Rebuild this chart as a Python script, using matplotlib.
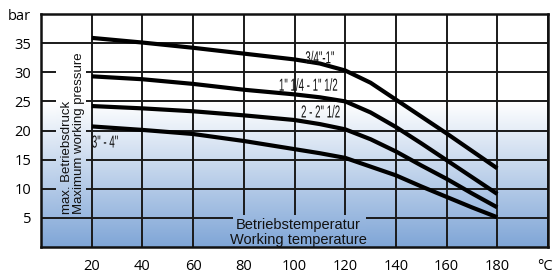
import numpy as np
import matplotlib
matplotlib.use("Agg")
import matplotlib.pyplot as plt
import matplotlib.transforms as mtransforms
from matplotlib.textpath import TextPath
from matplotlib.patches import PathPatch
from matplotlib.font_manager import FontProperties

# ---- data ----
temps = [20, 40, 60, 80, 100, 110, 120, 130, 140, 150, 160, 170, 180]
p_34_1 = [35.9, 35.1, 34.2, 33.2, 32.2, 31.5, 30.3, 28.2, 25.3, 22.4, 19.5, 16.5, 13.5]
p_114_112 = [29.3, 28.8, 28.0, 27.0, 26.2, 25.7, 25.0, 23.1, 20.6, 17.8, 14.9, 12.0, 9.1]
p_2_212 = [24.2, 23.8, 23.3, 22.6, 21.8, 21.1, 20.2, 18.5, 16.4, 14.0, 11.7, 9.2, 6.8]
p_3_4 = [20.7, 20.1, 19.4, 18.2, 16.8, 16.1, 15.3, 13.8, 12.3, 10.4, 8.6, 6.8, 5.1]
series = [p_34_1, p_114_112, p_2_212, p_3_4]
series_labels = ['3/4"-1"', '1" 1/4 - 1" 1/2', '2 - 2" 1/2', '3" - 4"']
label_pos = [(110, 32.6), (105.5, 27.9), (110.3, 23.3), (20.2, 18.1)]
label_ha = ['center', 'center', 'center', 'left']

x_ticks = [20, 40, 60, 80, 100, 120, 140, 160, 180, 200]
x_ticklabels = ['20', '40', '60', '80', '100', '120', '140', '160', '180', '°C']
y_ticks = [5, 10, 15, 20, 25, 30, 35, 40]
y_ticklabels = ['5', '10', '15', '20', '25', '30', '35', 'bar']
xlim = (0, 200)
ylim = (0, 40)

ylabel_lines = ['max. Betriebsdruck', 'Maximum working pressure']
xlabel_lines = ['Betriebstemperatur', 'Working temperature']

# ---- style ----
sans = ['Liberation Sans', 'DejaVu Sans']
tickfont = ['Open Sans', 'DejaVu Sans']

fig = plt.figure(figsize=(5.55, 2.76), dpi=100)
ax = fig.add_axes([41 / 555, 1 - 247 / 276, (548 - 41) / 555, (247 - 14) / 276])
ax.set_xlim(*xlim)
ax.set_ylim(*ylim)

blue = np.array([128, 166, 215]) / 255.0
white = np.array([1.0, 1.0, 1.0])


def grad_img(y0, y1, n=200):
    ys = np.linspace(y1, y0, n)
    t = np.clip((25.0 - ys) / 25.0, 0, 1)[:, None]
    col = white * (1 - t) + blue * t
    return np.repeat(col[:, None, :], 2, axis=1)


def condensed_text(x, y, s, size, sx=0.7, ha='center', family=sans, z=4):
    prop = FontProperties(family=family)
    tp = TextPath((0, 0), s, size=size, prop=prop)
    bb = tp.get_extents()
    if ha == 'center':
        dx = -(bb.x0 + bb.x1) / 2
    elif ha == 'left':
        dx = -bb.x0
    else:
        dx = -bb.x1
    dy = -(bb.y0 + bb.y1) / 2
    k = fig.dpi / 72.0
    tr = (mtransforms.Affine2D().translate(dx, dy).scale(k * sx, k)
          + mtransforms.ScaledTranslation(x, y, ax.transData))
    patch = PathPatch(tp, transform=tr, facecolor='#111111', edgecolor='none',
                      lw=0, zorder=z)
    ax.add_artist(patch)


# background gradient
ax.imshow(grad_img(ylim[0], ylim[1]), extent=[xlim[0], xlim[1], ylim[0], ylim[1]],
          aspect='auto', zorder=0, interpolation='bilinear')

# grid
ax.set_xticks(x_ticks)
ax.set_yticks(y_ticks)
ax.grid(True, color='#1a1a1a', linewidth=1.4)
ax.set_axisbelow(True)
for gl in ax.get_xgridlines() + ax.get_ygridlines():
    gl.set_zorder(0.5)

# gradient patches behind axis-title texts (hide grid there)
ybox = (5.8, 17.4, 5.6, 34.3)
xbox = (75.7, 127.8, 0.0, 5.45)
for (x0, x1, y0, y1) in [ybox, xbox]:
    ax.imshow(grad_img(y0, y1), extent=[x0, x1, y0, y1], aspect='auto',
              zorder=0.8, interpolation='bilinear')
ax.set_xlim(*xlim)
ax.set_ylim(*ylim)

# curves
for s in series:
    ax.plot(temps, s, color='black', linewidth=3.0, zorder=3,
            solid_joinstyle='round', solid_capstyle='butt')

for lab, (lx, ly), ha in zip(series_labels, label_pos, label_ha):
    condensed_text(lx, ly, lab, 12.5, sx=0.56, ha=ha)

# axis titles inside plot
ax.text(12.6, 5.6, '\n'.join(ylabel_lines), rotation=90, ha='center', va='bottom',
        multialignment='left', linespacing=0.92,
        fontsize=9.5, family=sans, color='#111111', zorder=4)
ax.text(101.5, 2.45, '\n'.join(xlabel_lines), ha='center', va='center',
        multialignment='center', linespacing=1.05,
        fontsize=10.5, family=sans, color='#111111', zorder=4)

# ticks
ax.set_xticklabels(x_ticklabels, family=tickfont, fontsize=10.5)
ax.set_yticklabels(y_ticklabels, family=tickfont, fontsize=10.5)
ax.tick_params(axis='both', length=0)
ax.tick_params(axis='x', pad=9)
ax.tick_params(axis='y', pad=7)
lbl = ax.get_xticklabels()[-1]
lbl.set_transform(lbl.get_transform() + mtransforms.ScaledTranslation(-3 / 100, 0, fig.dpi_scale_trans))

for sp in ax.spines.values():
    sp.set_color('#111111')
    sp.set_linewidth(1.8)
    sp.set_zorder(5)

fig.savefig('out.png', dpi=100)
